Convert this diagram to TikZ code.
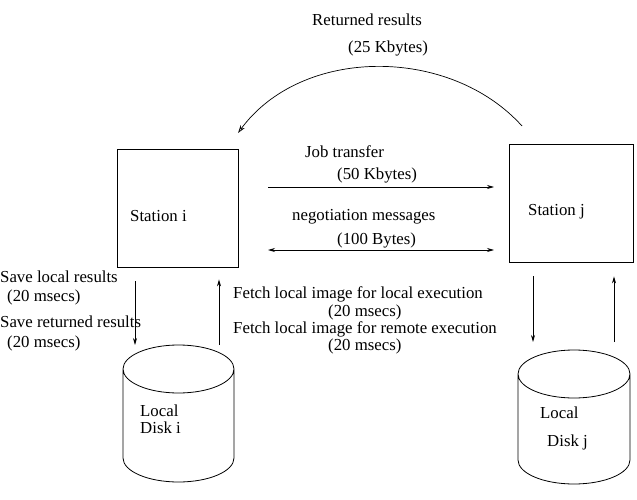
\documentclass[tikz,border=0pt]{standalone}
\usepackage{fontspec}
\setmainfont{Liberation Serif}
\usetikzlibrary{arrows.meta}
\begin{document}
\begin{tikzpicture}[x=1pt,y=-1pt,
  lbl/.style={anchor=west,inner sep=0pt,font=\fontsize{16.8}{19}\selectfont},
  box/.style={draw,line width=0.8pt,minimum width=121pt,minimum height=118pt,inner sep=0pt},
  arr/.style={line width=0.7pt,-{Stealth[length=7pt,width=4pt]}},
  darr/.style={line width=0.7pt,{Stealth[length=7pt,width=4pt]}-{Stealth[length=7pt,width=4pt]}},
  cyl/.style={line width=0.8pt}]
\useasboundingbox (0,0) rectangle (637,500);
% stations
\node[box] (si) at (177.5,208) {};
\node[box,minimum width=124pt] (sj) at (571,203) {};
\node[lbl] (sitxt) at (130,216) {Station i};
\node[lbl] (sjtxt) at (528,212) {Station j};
% disks
\draw[cyl] (123,369) arc[start angle=180,end angle=-180,x radius=55.5,y radius=24]
  (123,369) -- (123,458) arc[start angle=180,end angle=0,x radius=55.5,y radius=24] -- (234,369);
\draw[cyl] (518,374) arc[start angle=180,end angle=-180,x radius=56,y radius=24]
  (518,374) -- (518,460) arc[start angle=180,end angle=0,x radius=56,y radius=24] -- (630,374);
\node[lbl,align=left] (dik) at (140,419) {Local\\[-2pt]Disk i};
\node[lbl] (djl) at (540,413) {Local};
\node[lbl] (djd) at (547,442) {Disk j};
% coordinates
\coordinate (di-in) at (135,345);
\coordinate (di-out) at (219,345);
\coordinate (dj-in) at (533,342);
\coordinate (dj-out) at (614,342);
\coordinate (si-e1) at (268,187);
\coordinate (sj-w1) at (494,187);
\coordinate (si-e2) at (268,250);
\coordinate (sj-w2) at (494,250);
\coordinate (arcs) at (522,126);
\coordinate (arce) at (238,133);
% connectors
\draw[arr] ([yshift=-14pt]si.south -| di-in) -- (di-in);
\draw[arr] (di-out) -- ([yshift=-12pt]si.south -| di-out);
\draw[arr] ([yshift=-14pt]sj.south -| dj-in) -- (dj-in);
\draw[arr] (dj-out) -- ([yshift=-14pt]sj.south -| dj-out);
\draw[arr] (si-e1) -- (sj-w1);
\draw[darr] (si-e2) -- (sj-w2);
\draw[line width=0.7pt,-{Stealth[length=8pt,width=5pt,open]}] (arcs) .. controls (450,46) and (302,46) .. (arce);
% labels
\node[lbl] (rr) at (312,20) {Returned results};
\node[lbl] (rr2) at (348,48) {(25 Kbytes)};
\node[lbl] (jt) at (305,152) {Job transfer};
\node[lbl] (jt2) at (337,175) {(50 Kbytes)};
\node[lbl] (nm) at (292,217) {negotiation messages};
\node[lbl] (nm2) at (337,240) {(100 Bytes)};
\node[lbl] (sl) at (0,277) {Save local results};
\node[lbl] (sl2) at (7,297) {(20 msecs)};
\node[lbl] (sr) at (0,322) {Save returned results};
\node[lbl] (sr2) at (7,343) {(20 msecs)};
\node[lbl] (fl) at (233,294) {Fetch local image for local execution};
\node[lbl] (fl2) at (328,312) {(20 msecs)};
\node[lbl] (fr) at (233,329) {Fetch local image for remote execution};
\node[lbl] (fr2) at (328,346) {(20 msecs)};
\end{tikzpicture}
\end{document}
